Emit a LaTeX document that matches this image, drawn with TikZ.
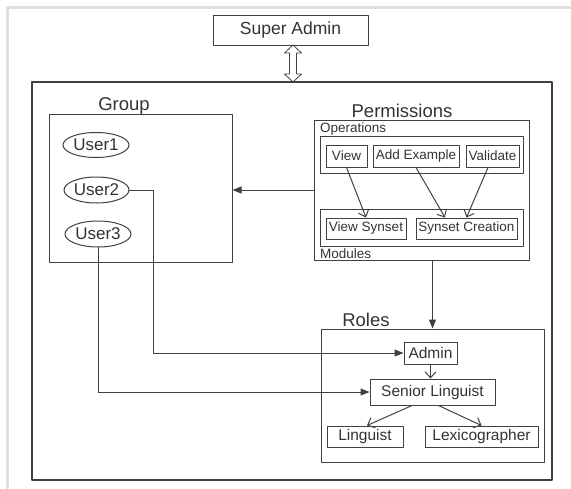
\documentclass[tikz,border=0pt]{standalone}
\usepackage{fontspec}
\setmainfont{Liberation Sans}
\usetikzlibrary{arrows.meta,shapes.geometric}
\definecolor{linegray}{HTML}{404040}
\definecolor{textgray}{HTML}{333333}
\tikzset{
  box/.style={draw=linegray,line width=1pt,inner sep=0pt,text=textgray},
  user/.style={box,ellipse,font=\fontsize{17}{19}\selectfont},
  opbox/.style={box,font=\fontsize{13.5}{15}\selectfont},
  rolebox/.style={box,font=\fontsize{15.5}{17}\selectfont},
  title/.style={text=textgray,inner sep=0pt,font=\fontsize{18.5}{20}\selectfont},
  small/.style={text=textgray,inner sep=0pt,font=\fontsize{13.5}{15}\selectfont},
  solid arrow/.style={draw=linegray,line width=1pt,-{Triangle[length=9pt,width=7pt]}},
  open arrow/.style={draw=linegray,line width=1pt,-{Straight Barb[length=6pt,width=11pt]}},
}
\begin{document}
\begin{tikzpicture}[line cap=round,line join=round,x=1pt,y=-1pt]
  \useasboundingbox (0,0) rectangle (571,488);
  % page shadow
  \draw[gray!25,line width=3pt] (7,488) -- (7,7) -- (571,7);
  % top
  \node[box,font=\fontsize{17.5}{19}\selectfont,minimum width=155pt,minimum height=30pt] (super) at (290.5,30) {Super Admin};
  \node[box,line width=1.8pt,minimum width=520pt,minimum height=398pt] (frame) at (292,281) {};
  \coordinate (linktop) at (293,45);
  \draw[linegray,line width=0.8pt] (linktop) -- ++(8.5,8) -- ++(-5,0) -- ++(0,21) -- ++(5,0)
    -- ++(-8.5,8) -- ++(-8.5,-8) -- ++(5,0) -- ++(0,-21) -- ++(-5,0) -- cycle;
  % group
  \node[box,minimum width=183pt,minimum height=148pt] (group) at (140.5,188) {};
  \node[title] (grouplbl) at (124,106) {Group};
  \node[user,minimum width=66pt,minimum height=25pt] (user1) at (96,145) {User1};
  \node[user,minimum width=65pt,minimum height=26pt] (user2) at (96.5,190) {User2};
  \node[user,minimum width=66pt,minimum height=26pt] (user3) at (98,234) {User3};
  % permissions
  \node[box,minimum width=215pt,minimum height=140pt] (perm) at (421.5,190) {};
  \node[title] (permlbl) at (402,111) {Permissions};
  \node[small,anchor=west] (opslbl) at (320,129) {Operations};
  \node[box,minimum width=203pt,minimum height=37pt] (ops) at (421.5,154.5) {};
  \node[opbox,minimum width=41pt,minimum height=22pt] (view) at (346.5,156) {View};
  \node[opbox,minimum width=86pt,minimum height=22pt] (addex) at (416,156) {Add Example};
  \node[opbox,minimum width=53pt,minimum height=22pt] (valid) at (492.5,156) {Validate};
  \node[box,minimum width=203pt,minimum height=37pt] (mods) at (421.5,227.5) {};
  \node[opbox,minimum width=80pt,minimum height=21pt] (vsyn) at (366,228.5) {View Synset};
  \node[opbox,minimum width=101pt,minimum height=21pt] (screate) at (466.5,228.5) {Synset Creation};
  \node[small,anchor=west] (modslbl) at (320,254) {Modules};
  \draw[open arrow] (view.south) -- (vsyn.north);
  \draw[open arrow] (addex.south) -- ([xshift=-21.5pt]screate.north);
  \draw[open arrow] ([xshift=-4.5pt]valid.south) -- (screate.north);
  % roles
  \node[box,minimum width=223pt,minimum height=133pt] (roles) at (432.5,395.5) {};
  \node[title] (roleslbl) at (366,320) {Roles};
  \node[rolebox,minimum width=53pt,minimum height=22pt] (admin) at (430.5,353) {Admin};
  \node[rolebox,minimum width=125pt,minimum height=26pt] (senior) at (432.5,392) {Senior Linguist};
  \node[rolebox,minimum width=76pt,minimum height=21pt] (ling) at (365,436.5) {Linguist};
  \node[rolebox,minimum width=113pt,minimum height=21pt] (lex) at (481.5,436.5) {Lexicographer};
  \draw[open arrow] (admin.south) -- (admin.south |- senior.north);
  \draw[open arrow] ([xshift=-20.5pt]senior.south) -- ([xshift=2pt]ling.north);
  \draw[open arrow] ([xshift=6pt]senior.south) -- (lex.north);
  % links between blocks
  \draw[solid arrow] (perm.west) -- (perm.west -| group.east);
  \draw[solid arrow] (roles.north |- perm.south) -- (roles.north);
  \draw[solid arrow] (user2.east) -- ++(24,0) |- (admin.west);
  \draw[solid arrow] (user3.south) |- (senior.west);
\end{tikzpicture}
\end{document}
